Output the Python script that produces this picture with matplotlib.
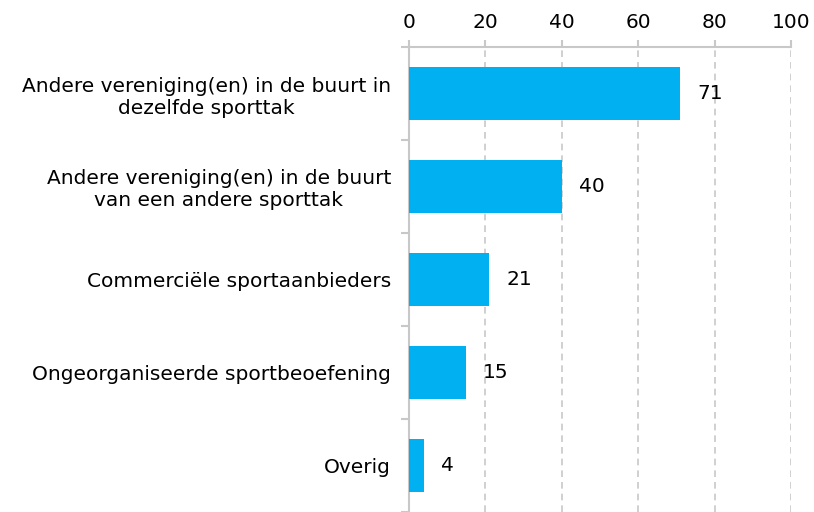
import numpy as np
import matplotlib.pyplot as plt

categories = [
    "Andere vereniging(en) in de buurt in\ndezelfde sporttak",
    "Andere vereniging(en) in de buurt\nvan een andere sporttak",
    "Commerciële sportaanbieders",
    "Ongeorganiseerde sportbeoefening",
    "Overig",
]
values = [71, 40, 21, 15, 4]
xticks = [0, 20, 40, 60, 80, 100]

bar_color = "#00B0F0"
axis_gray = "#c8c8c8"
fs = 14.5

fig = plt.figure(figsize=(8.14, 5.12), dpi=100)
ax = fig.add_axes([409 / 814, 0.0, (791 - 409) / 814, 1 - 47 / 512])

y = np.arange(len(categories))
ax.barh(y, values, height=0.58, color=bar_color, zorder=3)
for yi, v in zip(y, values):
    ax.text(v + 4.4, yi, str(v), va="center", ha="left", fontsize=fs, color="#000000")

ax.set_xlim(0, 100)
ax.set_ylim(len(categories) - 0.5, -0.5)
ax.xaxis.tick_top()
ax.set_xticks(xticks)
ax.set_xticklabels([str(t) for t in xticks], fontsize=fs)
ax.tick_params(axis="x", which="major", length=5, color=axis_gray, width=1.5, pad=6)

ax.set_yticks(y)
ax.set_yticklabels(categories, fontsize=fs, multialignment="center")
ax.tick_params(axis="y", which="major", length=0, pad=13)
ax.set_yticks(np.arange(-0.5, len(categories), 1), minor=True)
ax.tick_params(axis="y", which="minor", length=6, color=axis_gray, width=1.5)

ax.grid(axis="x", linestyle=(0, (4, 3)), color=axis_gray, linewidth=1.2, zorder=0)
for s in ["right", "bottom"]:
    ax.spines[s].set_visible(False)
for s in ["top", "left"]:
    ax.spines[s].set_color(axis_gray)
    ax.spines[s].set_linewidth(1.5)

fig.savefig("out.png", dpi=100)
